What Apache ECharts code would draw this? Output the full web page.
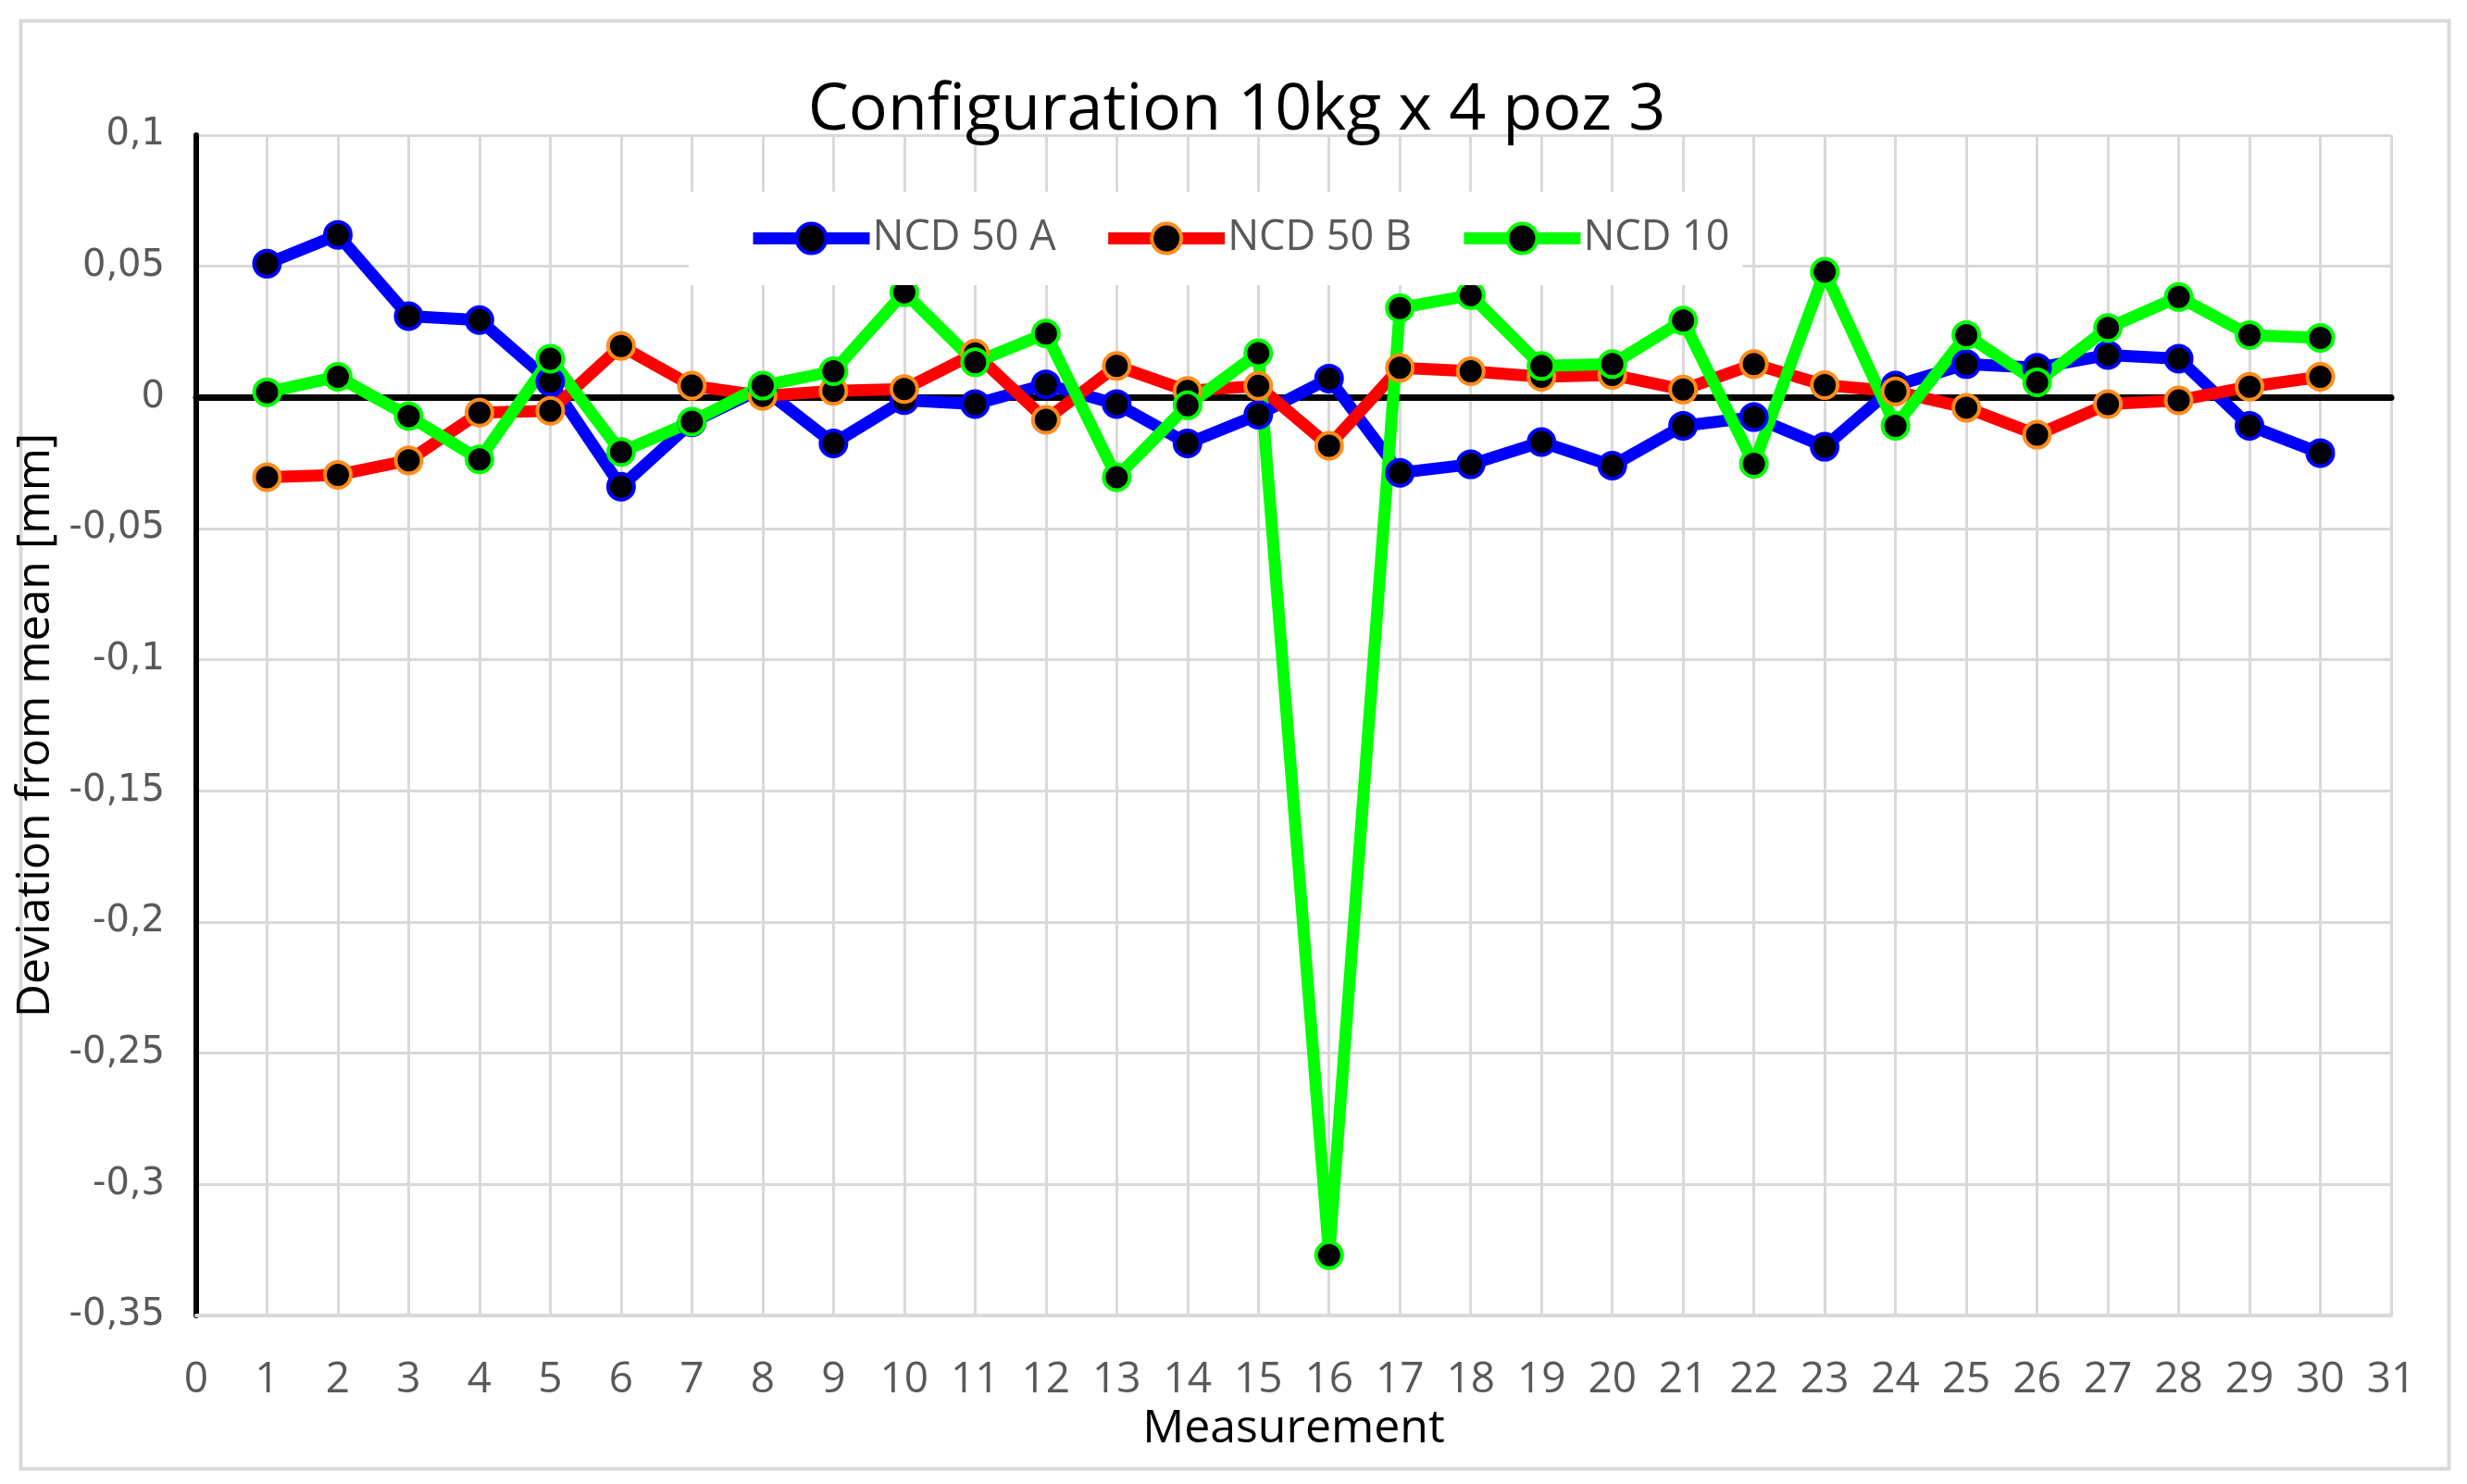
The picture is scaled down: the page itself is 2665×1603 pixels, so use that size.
<!DOCTYPE html>
<html>
<head>
<meta charset="utf-8">
<script src="https://cdn.jsdelivr.net/npm/echarts@6/dist/echarts.min.js"></script>
<style>
html,body{margin:0;padding:0;background:#fff;}
#chart{width:2665px;height:1603px;}
</style>
</head>
<body>
<div id="chart"></div>
<script>
const measurements = [1,2,3,4,5,6,7,8,9,10,11,12,13,14,15,16,17,18,19,20,21,22,23,24,25,26,27,28,29,30];
const ncd50A = [0.051, 0.062, 0.031, 0.0295, 0.006, -0.034, -0.0095, 0.0035, -0.0175, -0.001, -0.0025, 0.005, -0.0025, -0.0175, -0.0066, 0.0072, -0.0287, -0.0255, -0.017, -0.026, -0.0108, -0.0075, -0.0188, 0.0045, 0.0127, 0.0113, 0.0162, 0.0148, -0.0108, -0.0212];
const ncd50B = [-0.0304, -0.0295, -0.024, -0.0058, -0.0051, 0.0196, 0.0045, 0.0006, 0.0025, 0.0032, 0.0168, -0.0085, 0.012, 0.0025, 0.0044, -0.0184, 0.0113, 0.01, 0.0079, 0.0086, 0.003, 0.0127, 0.0047, 0.0023, -0.0039, -0.0142, -0.0025, -0.0011, 0.0041, 0.0079];
const ncd10 = [0.002, 0.0079, -0.0071, -0.0236, 0.0148, -0.0208, -0.0092, 0.0045, 0.01, 0.0401, 0.0134, 0.0244, -0.0304, -0.003, 0.0169, -0.327, 0.0341, 0.039, 0.012, 0.0127, 0.0293, -0.0253, 0.0479, -0.0108, 0.0238, 0.0058, 0.0265, 0.0383, 0.0238, 0.0227];
const seriesNames = ['NCD 50 A', 'NCD 50 B', 'NCD 10'];
const xTickLabels = ['0','1','2','3','4','5','6','7','8','9','10','11','12','13','14','15','16','17','18','19','20','21','22','23','24','25','26','27','28','29','30','31'];
const yTickLabels = ['-0,35','-0,3','-0,25','-0,2','-0,15','-0,1','-0,05','0','0,05','0,1'];
const yMin = -0.35, yMax = 0.1, yStep = 0.05;

function pairs(vals){ return measurements.map((m,i)=>[m, vals[i]]); }

const chart = echarts.init(document.getElementById('chart'), null, {renderer:'canvas'});
const grid = {left:212, right:82, top:146, bottom:182};

function mkSeries(name, vals, color, border){
  return {
    name: name, type:'line', data: pairs(vals), xAxisIndex:0, yAxisIndex:0,
    symbol:'circle', symbolSize:28, showSymbol:true,
    lineStyle:{color:color, width:13},
    itemStyle:{color:'#000', borderColor:border, borderWidth:4},
    emphasis:{disabled:true},
    animation:false, z:3
  };
}

chart.setOption({
  backgroundColor:'#fff',
  animation:false,
  title:{
    text:'Configuration 10kg x 4 poz 3',
    left:1331, top:80, textAlign:'center',
    textStyle:{fontFamily:'Open Sans', fontSize:70, fontWeight:'normal', color:'#000'}
  },
  legend:{
    data: seriesNames,
    left:744, top:207,
    backgroundColor:'#fff',
    padding:[28, 14, 28, 63],
    itemWidth:126, itemHeight:40, itemGap:50,
    lineStyle:{width:13},
    itemStyle:{borderWidth:4},
    textStyle:{fontFamily:'Open Sans', fontSize:45, color:'#595959', padding:[0,0,0,-2]}
  },
  grid: grid,
  xAxis:[{
    type:'value', min:0, max:31, interval:1,
    axisLine:{show:true, onZero:false, lineStyle:{color:'#d9d9d9', width:4}},
    axisTick:{show:false},
    axisLabel:{margin:47, fontFamily:"'Liberation Sans Narrow', 'Open Sans'", fontSize:46, color:'#595959',
      formatter:function(v){ return xTickLabels[Math.round(v)]; }},
    splitLine:{show:true, lineStyle:{color:'#d9d9d9', width:3}},
    name:'Measurement', nameLocation:'middle', nameGap:98,
    nameTextStyle:{fontFamily:'Open Sans', fontSize:50, color:'#000'}
  },{
    type:'value', min:0, max:31, position:'bottom',
    axisLine:{show:true, onZero:true, lineStyle:{color:'#000', width:7}},
    axisTick:{show:false}, axisLabel:{show:false}, splitLine:{show:false}
  }],
  yAxis:{
    type:'value', min:yMin, max:yMax, interval:yStep,
    axisLine:{show:true, onZero:false, lineStyle:{color:'#000', width:6}},
    axisTick:{show:false},
    axisLabel:{margin:34, fontFamily:'DejaVu Sans', fontSize:40, color:'#595959',
      formatter:function(v){ return yTickLabels[Math.round((v - yMin)/yStep)]; }},
    splitLine:{show:true, lineStyle:{color:'#d9d9d9', width:3}},
    name:'Deviation from mean [mm]', nameLocation:'middle', nameGap:96, nameRotate:90,
    nameTextStyle:{fontFamily:'Open Sans', fontSize:50, color:'#000'}
  },
  graphic:[{
    type:'rect', left:20, top:20, z:-10, silent:true,
    shape:{width:2623, height:1564},
    style:{fill:'none', stroke:'#d9d9d9', lineWidth:4}
  }],
  series:[
    mkSeries(seriesNames[0], ncd50A, '#0000ff', '#0000ff'),
    mkSeries(seriesNames[1], ncd50B, '#ff0000', '#ff8c1a'),
    mkSeries(seriesNames[2], ncd10, '#00ff00', '#00ff00')
  ]
});
</script>
</body>
</html>
